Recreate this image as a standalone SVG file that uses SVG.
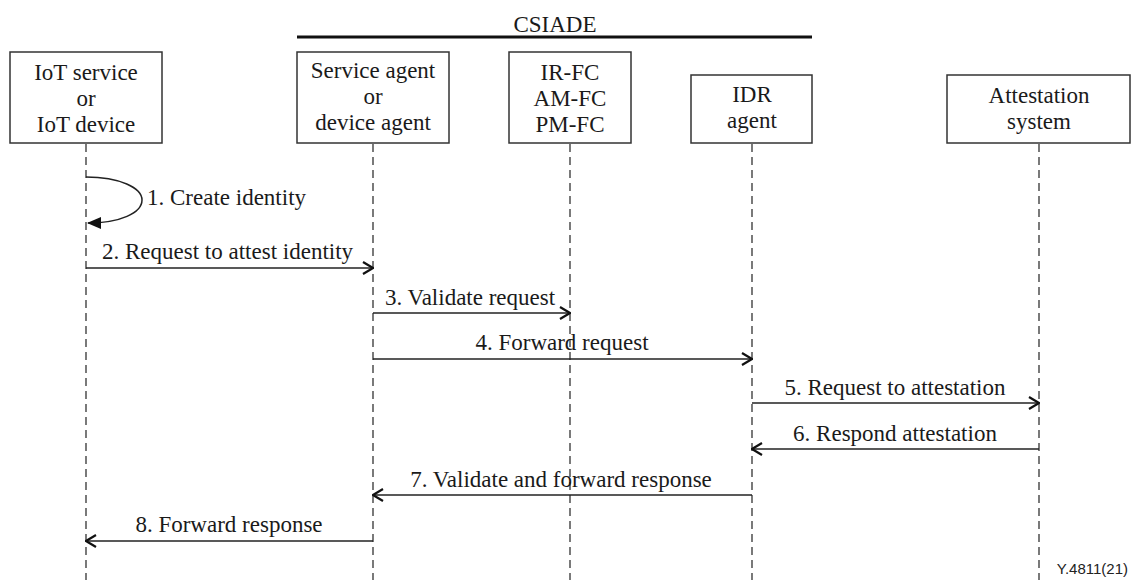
<svg xmlns="http://www.w3.org/2000/svg" width="1131" height="580" viewBox="0 0 1131 580">
<style>
  .box { fill: #fff; stroke: #333; stroke-width: 1.5; }
  .life { stroke: #333; stroke-width: 1.3; stroke-dasharray: 8 5; fill: none; }
  .t { font-family: "Liberation Serif", "Times New Roman", serif; font-size: 23px; fill: #1a1a1a; }
  .c { text-anchor: middle; }
  .msg { stroke: #222; stroke-width: 1.5; fill: none; }
</style>
<defs>
  <marker id="open" viewBox="0 0 12 14" refX="11" refY="7" markerWidth="12" markerHeight="14" markerUnits="userSpaceOnUse" orient="auto">
    <path d="M1,1 L11,7 L1,13" fill="none" stroke="#111" stroke-width="2.2"/>
  </marker>
  <marker id="filled" viewBox="0 0 14 14" refX="13" refY="7" markerWidth="14" markerHeight="14" markerUnits="userSpaceOnUse" orient="auto">
    <path d="M0,1 L14,7 L0,13 Z" fill="#111"/>
  </marker>
</defs>
<rect width="1131" height="580" fill="#fff"/>

<g id="csiade">
  <line x1="297" y1="37" x2="812" y2="37" stroke="#111" stroke-width="3"/>
  <text class="t c" x="555" y="32">CSIADE</text>
</g>

<g id="lifelines">
  <line class="life" x1="86" y1="144" x2="86" y2="580"/>
  <line class="life" x1="373" y1="144" x2="373" y2="580"/>
  <line class="life" x1="570" y1="144" x2="570" y2="580"/>
  <line class="life" x1="752" y1="144" x2="752" y2="580"/>
  <line class="life" x1="1039" y1="144" x2="1039" y2="580"/>
</g>

<g id="iot">
  <rect class="box" x="10" y="52" width="152" height="91"/>
  <text class="t c" x="86" y="80">IoT service</text>
  <text class="t c" x="86" y="106">or</text>
  <text class="t c" x="86" y="132">IoT device</text>
</g>
<g id="agent">
  <rect class="box" x="297" y="52" width="152" height="91"/>
  <text class="t c" x="373" y="78">Service agent</text>
  <text class="t c" x="373" y="104">or</text>
  <text class="t c" x="373" y="130">device agent</text>
</g>
<g id="fc">
  <rect class="box" x="509" y="52" width="122" height="91"/>
  <text class="t c" x="570" y="80">IR-FC</text>
  <text class="t c" x="570" y="106">AM-FC</text>
  <text class="t c" x="570" y="132">PM-FC</text>
</g>
<g id="idr">
  <rect class="box" x="691" y="75" width="121" height="68"/>
  <text class="t c" x="752" y="102">IDR</text>
  <text class="t c" x="752" y="128">agent</text>
</g>
<g id="attest">
  <rect class="box" x="947" y="75" width="183" height="68"/>
  <text class="t c" x="1039" y="103">Attestation</text>
  <text class="t c" x="1039" y="129">system</text>
</g>

<g id="connectors">
  <path class="msg" d="M86,177 C120,177 142,188 142,200 C142,213 120,223 88,223" marker-end="url(#filled)"/>
  <text class="t" x="147" y="205">1. Create identity</text>

  <line class="msg" x1="86" y1="268" x2="373" y2="268" marker-end="url(#open)"/>
  <text class="t" x="102" y="259">2. Request to attest identity</text>

  <line class="msg" x1="373" y1="313" x2="570" y2="313" marker-end="url(#open)"/>
  <text class="t" x="385" y="305">3. Validate request</text>

  <line class="msg" x1="373" y1="359" x2="752" y2="359" marker-end="url(#open)"/>
  <text class="t c" x="562" y="350">4. Forward request</text>

  <line class="msg" x1="752" y1="403" x2="1039" y2="403" marker-end="url(#open)"/>
  <text class="t c" x="895" y="395">5. Request to attestation</text>

  <line class="msg" x1="1039" y1="449" x2="752" y2="449" marker-end="url(#open)"/>
  <text class="t c" x="895" y="441">6. Respond attestation</text>

  <line class="msg" x1="752" y1="495" x2="373" y2="495" marker-end="url(#open)"/>
  <text class="t c" x="561" y="487">7. Validate and forward response</text>

  <line class="msg" x1="373" y1="541" x2="86" y2="541" marker-end="url(#open)"/>
  <text class="t c" x="229" y="532">8. Forward response</text>
</g>

<text x="1128" y="574" text-anchor="end" style="font-family:'Liberation Sans',Arial,sans-serif;font-size:15px;fill:#222">Y.4811(21)</text>
</svg>
